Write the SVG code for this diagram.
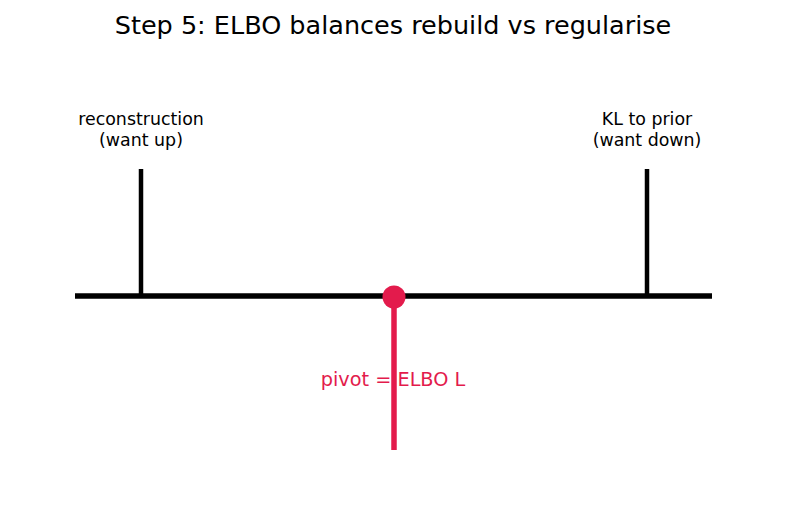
<svg xmlns="http://www.w3.org/2000/svg" width="787" height="512" viewBox="0 0 787 512">
<style>
text{font-family:"DejaVu Sans",sans-serif;text-anchor:middle}
.lbl{font-size:17.4px;fill:#000}
.blk{stroke:#000;stroke-linecap:butt;fill:none}
.red{stroke:#e31b4c;fill:none}
</style>
<rect width="787" height="512" fill="#fff"/>
<text x="393" y="34" style="font-size:25.5px">Step 5: ELBO balances rebuild vs regularise</text>
<g id="connectors">
<line class="blk" x1="75" y1="296" x2="712" y2="296" stroke-width="5.5"/>
</g>
<g id="reconstruction">
<line class="blk" x1="141" y1="169" x2="141" y2="296" stroke-width="4.5"/>
<text class="lbl" x="141" y="125">reconstruction</text>
<text class="lbl" x="141" y="146">(want up)</text>
</g>
<g id="kl">
<line class="blk" x1="647" y1="169" x2="647" y2="296" stroke-width="4.5"/>
<text class="lbl" x="647" y="125">KL to prior</text>
<text class="lbl" x="647" y="146">(want down)</text>
</g>
<g id="pivot">
<text x="393" y="386" style="font-size:19.3px;fill:#e31b4c">pivot = ELBO L</text>
<line class="red" x1="394" y1="297" x2="394" y2="450" stroke-width="5.5"/>
<circle cx="394" cy="297" r="11.5" fill="#e31b4c"/>
</g>
</svg>
